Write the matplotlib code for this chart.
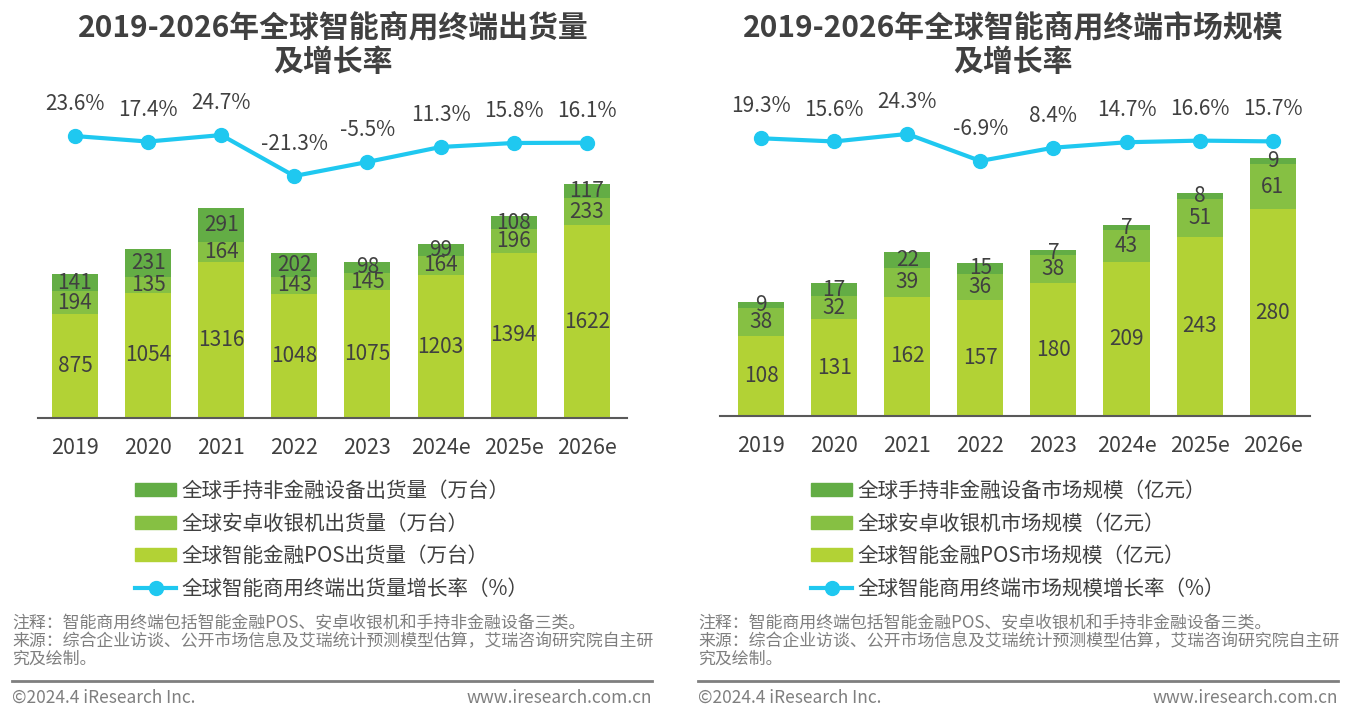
import matplotlib
matplotlib.use("Agg")
import matplotlib.pyplot as plt
from matplotlib.patches import Patch
from matplotlib.lines import Line2D

plt.rcParams['font.family'] = ['Noto Sans CJK SC', 'DejaVu Sans']

years = ['2019', '2020', '2021', '2022', '2023', '2024e', '2025e', '2026e']

# Left chart: shipments (万台)
ship_pos = [875, 1054, 1316, 1048, 1075, 1203, 1394, 1622]
ship_android = [194, 135, 164, 143, 145, 164, 196, 233]
ship_handheld = [141, 231, 291, 202, 98, 99, 108, 117]
ship_growth = [23.6, 17.4, 24.7, -21.3, -5.5, 11.3, 15.8, 16.1]

# Right chart: market size (亿元)
mkt_pos = [108, 131, 162, 157, 180, 209, 243, 280]
mkt_android = [38, 32, 39, 36, 38, 43, 51, 61]
mkt_handheld = [9, 17, 22, 15, 7, 7, 8, 9]
mkt_growth = [19.3, 15.6, 24.3, -6.9, 8.4, 14.7, 16.6, 15.7]

titles = ['2019-2026年全球智能商用终端出货量\n及增长率',
          '2019-2026年全球智能商用终端市场规模\n及增长率']
legend_left = ['全球手持非金融设备出货量（万台）', '全球安卓收银机出货量（万台）',
               '全球智能金融POS出货量（万台）', '全球智能商用终端出货量增长率（%）']
legend_right = ['全球手持非金融设备市场规模（亿元）', '全球安卓收银机市场规模（亿元）',
                '全球智能金融POS市场规模（亿元）', '全球智能商用终端市场规模增长率（%）']
note_text = ('注释：智能商用终端包括智能金融POS、安卓收银机和手持非金融设备三类。\n'
             '来源：综合企业访谈、公开市场信息及艾瑞统计预测模型估算，艾瑞咨询研究院自主研\n'
             '究及绘制。')
footer_left = '©2024.4 iResearch Inc.'
footer_right = 'www.iresearch.com.cn'

C_POS = '#b2d235'
C_AND = '#86c043'
C_HH = '#63ad45'
C_LINE = '#1fc8f0'
C_TXT = '#404040'
C_GRAY = '#7f7f7f'

W, H = 1350, 719
fig = plt.figure(figsize=(W / 100, H / 100), dpi=100)


def px_rect(x0, y_top, x1, y_bot):
    return [x0 / W, (H - y_bot) / H, (x1 - x0) / W, (y_bot - y_top) / H]


def draw_panel(x0, x1, base, top, xlim, ymax, tlim, pos, andr, hh, growth,
               title, title_x, labels, leg_x, note_x, line_x1):
    ax = fig.add_axes(px_rect(x0, top, x1, base))
    x = list(range(len(years)))
    bw = 0.63
    ax.bar(x, pos, bw, color=C_POS)
    ax.bar(x, andr, bw, bottom=pos, color=C_AND)
    b3 = [p + a for p, a in zip(pos, andr)]
    ax.bar(x, hh, bw, bottom=b3, color=C_HH)
    for i in x:
        ax.text(i, pos[i] / 2, str(pos[i]), ha='center', va='center', fontsize=15, color=C_TXT)
        ax.text(i, pos[i] + andr[i] / 2, str(andr[i]), ha='center', va='center', fontsize=15, color=C_TXT)
        ax.text(i, b3[i] + hh[i] / 2, str(hh[i]), ha='center', va='center', fontsize=15, color=C_TXT)
    ax.set_xlim(*xlim)
    ax.set_ylim(0, ymax)
    ax.set_xticks(x)
    ax.set_xticklabels(years, fontsize=15.5, color=C_TXT)
    ax.tick_params(axis='x', length=0, pad=14)
    ax.set_yticks([])
    for s in ['top', 'left', 'right']:
        ax.spines[s].set_visible(False)
    ax.spines['bottom'].set_color('#595959')
    ax.spines['bottom'].set_linewidth(1.5)
    ax.patch.set_alpha(0)

    ax2 = ax.twinx()
    ax2.plot(x, growth, color=C_LINE, lw=3, marker='o', ms=10)
    ax2.set_ylim(*tlim)
    ax2.axis('off')
    for i in x:
        ax2.annotate(f'{growth[i]}%', (i, growth[i]), xytext=(0, 23), textcoords='offset points',
                     ha='center', va='center', fontsize=15, color=C_TXT)

    fig.text(title_x / W, 1 - 45 / H, title, ha='center', va='center', fontsize=21.5,
             fontweight='bold', color=C_TXT, linespacing=1.2)

    handles = [Patch(color=C_HH), Patch(color=C_AND), Patch(color=C_POS),
               Line2D([0], [0], color=C_LINE, lw=3, marker='o', ms=10)]
    fig.legend(handles, labels, loc='upper left', bbox_to_anchor=(leg_x / W, 1 - 480 / H),
               frameon=False, fontsize=14.8, labelcolor=C_TXT, handlelength=2.0,
               handleheight=0.62, handletextpad=0.25, labelspacing=0.51, borderpad=0,
               borderaxespad=0)

    fig.text(note_x / W, 1 - 614 / H, note_text, ha='left', va='top', fontsize=12.2,
             color=C_GRAY, linespacing=0.98)
    fig.add_artist(Line2D([note_x / W, line_x1 / W], [1 - 681 / H, 1 - 681 / H],
                          color=C_GRAY, lw=2))
    fig.text(note_x / W, 1 - 698 / H, footer_left, ha='left', va='center', fontsize=12.5, color=C_GRAY)
    fig.text(line_x1 / W, 1 - 698 / H, footer_right, ha='right', va='center', fontsize=12.5, color=C_GRAY)


draw_panel(38, 627, 418, 90, (-0.506, 7.55), 2763, (-293, 75.3),
           ship_pos, ship_android, ship_handheld, ship_growth,
           titles[0], 333, legend_left, 135, 12, 652)
draw_panel(720, 1310, 416, 90, (-0.561, 7.51), 442, (-301.7, 75.1),
           mkt_pos, mkt_android, mkt_handheld, mkt_growth,
           titles[1], 1013, legend_right, 811, 698, 1338)

fig.savefig('out.png', dpi=100)
